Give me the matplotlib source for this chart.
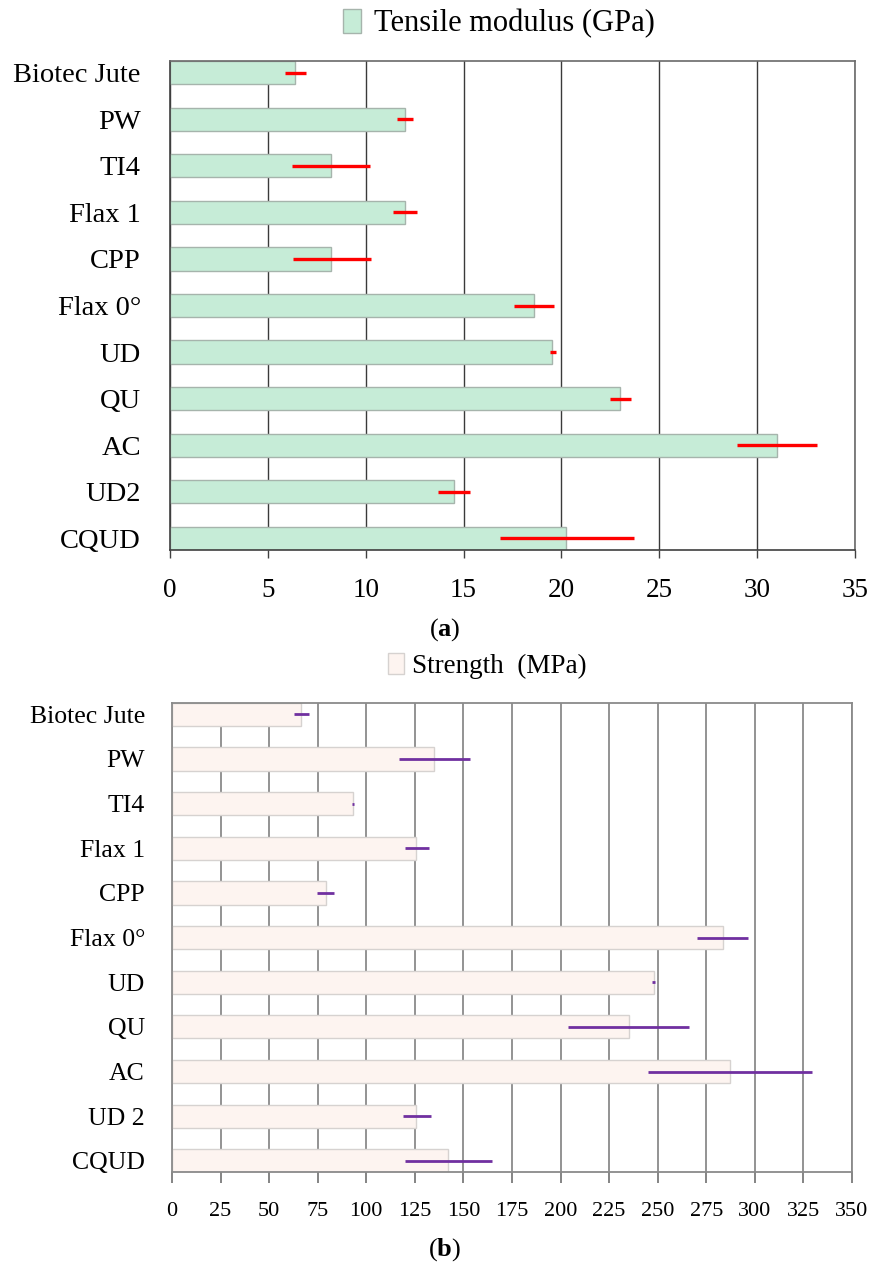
import numpy as np
import matplotlib
matplotlib.use('Agg')
import matplotlib.pyplot as plt
from matplotlib.patches import Patch

plt.rcParams['font.family'] = ['Liberation Serif', 'DejaVu Serif']
plt.rcParams['mathtext.fontset'] = 'custom'
plt.rcParams['mathtext.rm'] = 'Liberation Serif'
plt.rcParams['mathtext.bf'] = 'Liberation Serif:bold'

# panel (a): tensile modulus
labels_a = ['Biotec Jute', 'PW', 'TI4', 'Flax 1', 'CPP', 'Flax 0°', 'UD', 'QU', 'AC', 'UD2', 'CQUD']
modulus = [6.4, 12.0, 8.2, 12.0, 8.25, 18.6, 19.5, 23.0, 31.0, 14.5, 20.25]
modulus_center = [6.42, 12.02, 8.22, 12.0, 8.26, 18.62, 19.55, 23.03, 31.02, 14.52, 20.28]
modulus_err = [0.53, 0.42, 2.0, 0.62, 2.0, 1.02, 0.15, 0.54, 2.03, 0.83, 3.43]

# panel (b): strength
labels_b = ['Biotec Jute', 'PW', 'TI4', 'Flax 1', 'CPP', 'Flax 0°', 'UD', 'QU', 'AC', 'UD 2', 'CQUD']
strength = [66.5, 135.0, 93.0, 125.7, 79.1, 283.7, 247.9, 235.4, 287.2, 125.7, 142.3]
strength_center = [66.5, 135.2, 93.0, 126.1, 79.1, 283.5, 248.0, 235.1, 287.2, 126.2, 142.4]
strength_err = [3.8, 18.2, 0.5, 6.3, 4.3, 13.1, 0.8, 31.2, 42.1, 7.1, 22.4]

fig = plt.figure(figsize=(8.72, 12.63), dpi=100)

# ---------- (a) ----------
ax1 = fig.add_axes([0.195, 0.5645, 0.7855, 0.3872])
y = np.arange(len(labels_a))
ax1.barh(y, modulus, height=0.5, color='#c6ecd7', edgecolor='#a6b4ac', linewidth=1.0, zorder=2)
ax1.errorbar(modulus_center, y, xerr=modulus_err, fmt='none', ecolor='#ff0000',
             elinewidth=2.4, capsize=0, zorder=3)
ax1.set_xlim(0, 35)
ax1.set_ylim(10.25, -0.25)
ax1.set_xticks(np.arange(0, 36, 5))
ax1.set_yticks(y)
ax1.set_yticklabels(labels_a, fontsize=20.5)
ax1.tick_params(axis='y', length=0, pad=21)
ax1.tick_params(axis='x', labelsize=19.5, length=6, width=1, color='#404040', pad=14)
ax1.xaxis.grid(True, color='#3a3a3a', linewidth=1.0, zorder=0)
ax1.set_axisbelow(True)
for s in ax1.spines.values():
    s.set_color('#6a6a6a')
    s.set_linewidth(1.2)
ax1.spines['left'].set_color('#404040')
ax1.spines['bottom'].set_color('#404040')

fig.legend(handles=[Patch(facecolor='#c6ecd7', edgecolor='#a6b4ac', label='Tensile modulus (GPa)')],
           loc='center', bbox_to_anchor=(0.572, 0.981), frameon=False, fontsize=22,
           handlelength=0.6, handleheight=0.8, handletextpad=0.4)
fig.text(0.51, 0.5015, r'($\mathbf{a}$)', ha='center', va='center', fontsize=19)

# ---------- (b) ----------
ax2 = fig.add_axes([0.1972, 0.0717, 0.7798, 0.3719])
y = np.arange(len(labels_b))
ax2.barh(y, strength, height=0.52, color='#fdf4f0', edgecolor='#d6d2d0', linewidth=1.0, zorder=2)
ax2.errorbar(strength_center, y, xerr=strength_err, fmt='none', ecolor='#7030a0',
             elinewidth=2.0, capsize=0, zorder=3)
ax2.set_xlim(0, 350)
ax2.set_ylim(10.26, -0.26)
ax2.set_xticks(np.arange(0, 351, 25))
ax2.set_yticks(y)
ax2.set_yticklabels(labels_b, fontsize=18.5)
ax2.tick_params(axis='y', length=0, pad=19.5)
ax2.tick_params(axis='x', labelsize=16, length=8, width=1.2, color='#707070', pad=13)
ax2.xaxis.grid(True, color='#8a8a8a', linewidth=1.3, zorder=0)
ax2.set_axisbelow(True)
for s in ax2.spines.values():
    s.set_color('#8a8a8a')
    s.set_linewidth(1.3)

fig.legend(handles=[Patch(facecolor='#fdf4f0', edgecolor='#d6d2d0', label='Strength  (MPa)')],
           loc='center', bbox_to_anchor=(0.559, 0.4725), frameon=False, fontsize=19.5,
           handlelength=0.6, handleheight=0.8, handletextpad=0.3)
fig.text(0.51, 0.0105, r'($\mathbf{b}$)', ha='center', va='center', fontsize=19)

fig.savefig('out.png', dpi=100)
